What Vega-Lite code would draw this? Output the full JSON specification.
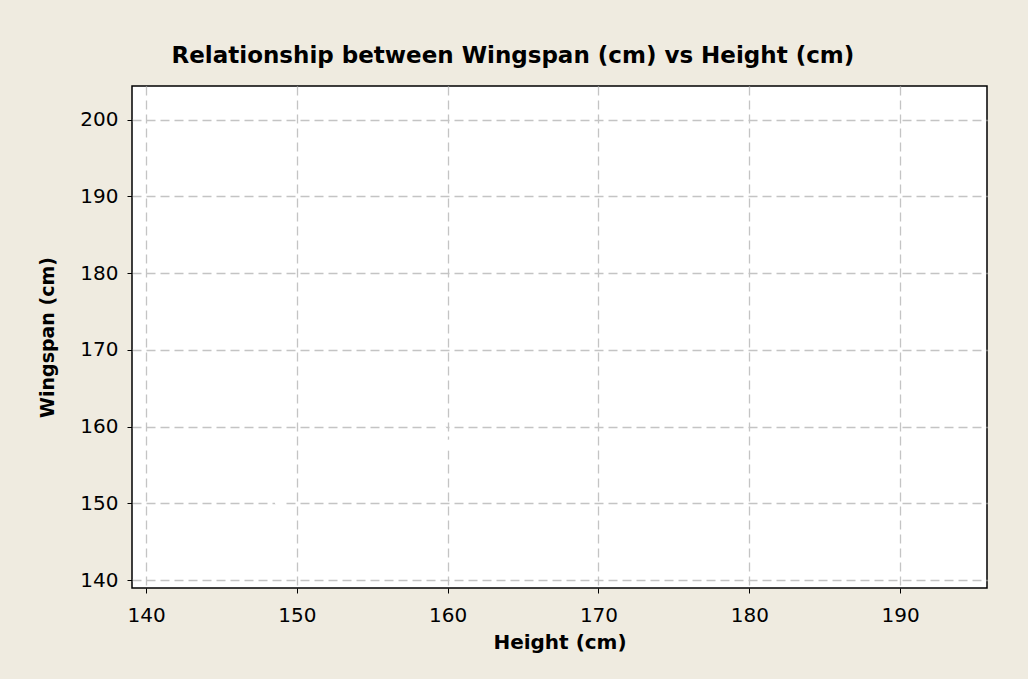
{
  "$schema": "https://vega.github.io/schema/vega-lite/v6.json",
  "autosize": "none",
  "width": 855,
  "height": 502,
  "padding": {"left": 132, "top": 86, "right": 41, "bottom": 91},
  "background": "#EFEBE0",
  "title": {
    "text": "Relationship between Wingspan (cm) vs Height (cm)",
    "font": "DejaVu Sans",
    "fontSize": 23,
    "fontWeight": "bold",
    "color": "#000000",
    "anchor": "middle",
    "frame": "bounds",
    "offset": 18
  },
  "data": {
    "values": [
      {"height": 159.6, "wingspan": 159.5},
      {"height": 160.1, "wingspan": 157.6},
      {"height": 148.9, "wingspan": 150.2}
    ]
  },
  "mark": {"type": "point", "filled": true, "color": "#FFFFFF", "opacity": 1, "size": 120},
  "encoding": {
    "x": {
      "field": "height",
      "type": "quantitative",
      "scale": {"domain": [139.07, 195.76], "nice": false, "zero": false},
      "axis": {
        "title": "Height (cm)",
        "values": [140, 150, 160, 170, 180, 190],
        "titleFont": "DejaVu Sans",
        "titleFontSize": 20,
        "titleFontWeight": "bold",
        "titleColor": "#000000",
        "titlePadding": 7,
        "labelFont": "DejaVu Sans",
        "labelFontSize": 20,
        "labelColor": "#000000",
        "labelPadding": 12,
        "tickColor": "#000000",
        "tickSize": 5,
        "domain": false,
        "grid": true,
        "gridColor": "#C4C4C4",
        "gridDash": [9, 5],
        "gridWidth": 1.3
      }
    },
    "y": {
      "field": "wingspan",
      "type": "quantitative",
      "scale": {"domain": [138.96, 204.4], "nice": false, "zero": false},
      "axis": {
        "title": "Wingspan (cm)",
        "values": [140, 150, 160, 170, 180, 190, 200],
        "titleFont": "DejaVu Sans",
        "titleFontSize": 19,
        "titleFontWeight": "bold",
        "titleColor": "#000000",
        "titlePadding": 22,
        "labelFont": "DejaVu Sans",
        "labelFontSize": 20,
        "labelColor": "#000000",
        "labelPadding": 9,
        "tickColor": "#000000",
        "tickSize": 5,
        "domain": false,
        "grid": true,
        "gridColor": "#C4C4C4",
        "gridDash": [9, 5],
        "gridWidth": 1.3
      }
    }
  },
  "config": {
    "view": {"fill": "#FFFFFF", "stroke": "#000000", "strokeWidth": 1.5}
  }
}
